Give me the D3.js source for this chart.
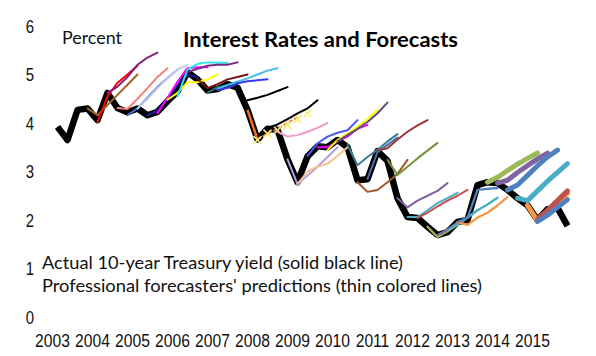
<!DOCTYPE html>
<html><head><meta charset="utf-8">
<script src="https://cdn.jsdelivr.net/npm/d3@7"></script>
<style>html,body{margin:0;padding:0;background:#fff;}svg{display:block;}</style>
</head><body>
<svg id="c" width="596" height="356"></svg>
<script>
// ---- data ----
const yearLabels = ["2003","2004","2005","2006","2007","2008","2009","2010","2011","2012","2013","2014","2015"];
const yTicks = [0,1,2,3,4,5,6];
// actual 10-year Treasury yield, quarterly 2003Q1..2015Q4
const actualYield = [
  3.92,3.65,4.27,4.30, 4.06,4.62,4.31,4.22, 4.30,4.16,4.23,4.45,
  4.65,5.05,4.90,4.67, 4.70,4.80,4.73,4.27, 3.66,3.88,3.86,3.25,
  2.78,3.31,3.52,3.50, 3.65,3.50,2.82,2.84, 3.42,3.22,2.45,2.06,
  2.04,1.86,1.69,1.75, 1.96,2.00,2.72,2.78, 2.76,2.62,2.45,2.30,
  2.00,2.22,2.25,1.88
];
// forecast start quarter index (0 = 2003Q1)
const forecastStart = [3,4,5,6,7,8,9,10,11,12,13,14,15,16,16,19,19,20,21,22,23,24,25,26,27,28,29,30,31,32,33,34,35,36,37,38,39,40,40,43,44,45,46,47,48,48];
const forecastValues = [
  [4.3,4.16,4.37,4.58,4.79,5.0],
  [4.02,4.55,4.83,5.0,5.18],
  [4.62,4.75,4.95,5.2,5.35,5.45],
  [4.31,4.29,4.5,4.72,4.95,5.13],
  [4.16,4.3,4.52,4.74,4.93,5.1],
  [4.3,4.5,4.72,4.93,5.1,5.2],
  [4.16,4.25,4.5,4.78,5.0,4.95],
  [4.2,4.52,4.85,5.13,5.15,5.15],
  [4.48,4.62,4.84,4.84,4.9,5.0],
  [4.55,5.1,5.22,5.25,5.24,5.24],
  [5.05,5.12,5.18,5.2,5.2,5.25],
  [4.9,4.72,4.8,4.9,4.95,5.0],
  [4.62,4.74,4.78,4.85],
  [4.7,4.78,4.85,4.92,5.0,5.08,5.13],
  [4.68,4.72,4.82,4.86,4.88,4.9],
  [4.47,4.52,4.58,4.66,4.74],
  [4.27,3.66,3.78,3.88,4.0,4.12],
  [3.65,3.78,3.85,3.95,4.08,4.2],
  [3.9,3.97,4.08,4.2,4.3,4.47],
  [3.82,3.72,3.75,3.82,3.9,4.0],
  [3.25,2.74,2.92,3.1,3.3,3.5],
  [2.74,3.0,3.1,3.16,3.32,3.5],
  [3.32,3.58,3.72,3.8,3.85,4.06],
  [3.5,3.5,3.62,3.72,3.88,3.96],
  [3.44,3.65,3.78,3.92,4.08,4.27],
  [3.62,3.75,3.88,4.02,4.2,4.42],
  [3.55,3.13,3.3,3.45,3.62,3.77],
  [2.78,2.58,2.62,2.78,2.95,3.24],
  [2.85,3.4,3.55,3.7],
  [3.44,3.48,3.66,3.82,3.95,4.06],
  [3.24,2.93,3.1,3.27,3.43,3.59],
  [2.45,2.26,2.4,2.5,2.6,2.76],
  [2.06,2.06,2.2,2.35,2.45,2.56],
  [2.04,2.15,2.28,2.4,2.5,2.62],
  [1.86,1.65,1.77,1.9,2.05,2.2],
  [1.69,1.8,1.95,2.05],
  [1.78,1.92,2.05,2.2,2.32,2.46],
  [1.96,1.9,2.05,2.15,2.3,2.47],
  [1.96,2.05,2.62,2.64,2.66],
  [2.78,2.88,3.02,3.15,3.27,3.38],
  [2.76,2.82,2.98,3.12,3.26,3.38],
  [2.62,2.72,2.92,3.12,3.3,3.44],
  [2.45,2.4,2.6,2.8,2.98,3.16],
  [2.3,1.98,2.17,2.36,2.55],
  [2.02,2.2,2.4,2.6],
  [1.97,2.1,2.26,2.42]
];
const titleText = "Interest Rates and Forecasts";
const unitText = "Percent";
const noteLines = ["Actual 10-year Treasury yield (solid black line)",
                   "Professional forecasters' predictions (thin colored lines)"];

// ---- styles ----
const forecastColors = ["#A0652F","#FF0000","#7F1F7F","#F4817F","#3D6FD0","#C6C8F2","#1A1A9A","#FF00FF","#FFFF00","#2FE3F0",
  "#7A2A85","#7A1414","#2F7070","#45C0F0","#3A3AF5","#000000","#F07020","#F5EE80","#000000","#F59AC8",
  "#B49CE0","#F8C090","#4A5AF0","#FF00FF","#FFFF00","#5F4B7B","#3A7D8C","#A0582A","#4A6FA8","#953735",
  "#77933C","#7F64A0","#4BACC6","#C0504D","#9BBB59","#8064A2","#4BACC6","#F79646","#4F81BD","#9BBB59",
  "#8064A2","#4F81BD","#4BACC6","#F79646","#C0504D","#4F81BD"];
const forecastWidths = forecastStart.map((k,i)=> i>=39 ? 5 : (i>=34 ? 2.3 : 2));
const dashedIdx = 16, markerIdx = 17;

// ---- chart ----
const svg = d3.select("#c");
const x = d3.scaleLinear().domain([2003, 2016]).range([52.5, 572.5]);
const y = d3.scaleLinear().domain([0, 6]).range([317, 26]);
const tq = k => 2003 + (k + 0.5) / 4;
const line = d3.line().x(d => x(d.t)).y(d => y(d.v));

// actual yield
svg.append("path")
  .datum(actualYield.map((v,k)=>({t:tq(k), v})))
  .attr("d", line).attr("fill","none").attr("stroke","#000")
  .attr("stroke-width",6.5).attr("stroke-linejoin","round");

// forecasts
forecastValues.forEach((vals,i)=>{
  const pts = vals.map((v,j)=>({t:tq(forecastStart[i]+j), v}));
  if (i === markerIdx) {
    const g = svg.append("g").attr("stroke", forecastColors[i]).attr("stroke-width",1.6);
    pts.forEach(p=>{
      const cx = x(p.t), cy = y(p.v);
      g.append("line").attr("x1",cx-4).attr("y1",cy-4).attr("x2",cx+4).attr("y2",cy+4);
      g.append("line").attr("x1",cx-4).attr("y1",cy+4).attr("x2",cx+4).attr("y2",cy-4);
    });
    return;
  }
  if (i === dashedIdx) {
    svg.append("path").datum(pts.slice(0,2)).attr("d",line).attr("fill","none")
      .attr("stroke",forecastColors[i]).attr("stroke-width",2.5);
    svg.append("path").datum(pts.slice(1)).attr("d",line).attr("fill","none")
      .attr("stroke",forecastColors[i]).attr("stroke-width",2).attr("stroke-dasharray","4,2");
    return;
  }
  svg.append("path").datum(pts).attr("d",line).attr("fill","none")
    .attr("stroke",forecastColors[i]).attr("stroke-width",forecastWidths[i])
    .attr("stroke-linejoin","round").attr("stroke-linecap","round");
});

// y tick labels
svg.append("g").selectAll("text").data(yTicks).join("text")
  .attr("transform", d=>`translate(30,${y(d)+6.5}) scale(0.83,1)`)
  .attr("text-anchor","middle").attr("font-family","'Liberation Sans', Arial, sans-serif")
  .attr("font-size",18).attr("fill","#111").text(d=>d);

// x labels
svg.append("g").selectAll("text").data(yearLabels).join("text")
  .attr("transform", d=>`translate(${x(+d)},347) scale(0.87,1)`)
  .attr("text-anchor","middle").attr("font-family","'Liberation Sans', Arial, sans-serif")
  .attr("font-size",18).attr("fill","#111").text(d=>d);

// title
svg.append("text").attr("x",183).attr("y",47).attr("font-family","Lato, sans-serif")
  .attr("font-weight","bold").attr("font-size",20).attr("fill","#000")
  .attr("textLength",275).attr("lengthAdjust","spacingAndGlyphs").text(titleText);
svg.append("text").attr("x",62).attr("y",44).attr("font-family","Lato, sans-serif")
  .attr("font-size",17).attr("fill","#111")
  .attr("textLength",60).attr("lengthAdjust","spacingAndGlyphs").text(unitText);
svg.append("text").attr("x",42).attr("y",269).attr("font-family","Lato, sans-serif")
  .attr("font-size",18).attr("fill","#111")
  .attr("textLength",361).attr("lengthAdjust","spacingAndGlyphs").text(noteLines[0]);
svg.append("text").attr("x",42).attr("y",292).attr("font-family","Lato, sans-serif")
  .attr("font-size",18).attr("fill","#111")
  .attr("textLength",440).attr("lengthAdjust","spacingAndGlyphs").text(noteLines[1]);
</script>
</body></html>
